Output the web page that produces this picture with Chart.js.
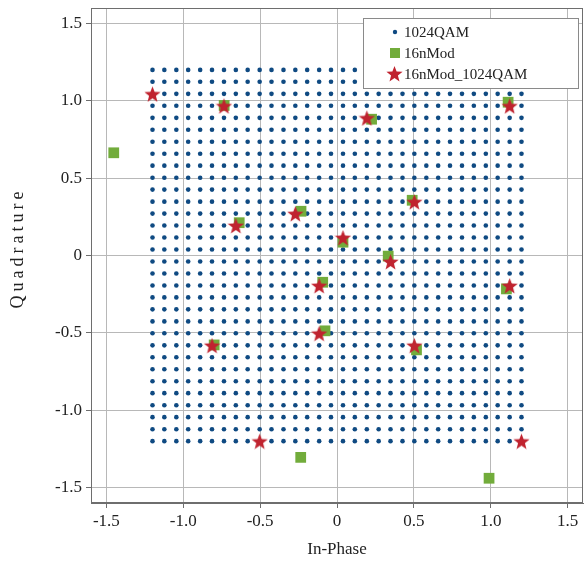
<!DOCTYPE html>
<html>
<head>
<meta charset="utf-8">
<script src="https://cdn.jsdelivr.net/npm/chart.js@4.4.0/dist/chart.umd.min.js"></script>
<style>
  html, body { margin: 0; padding: 0; background: #fff; }
  #wrap { width: 585px; height: 565px; }
</style>
</head>
<body>
<div id="wrap"><canvas id="myChart" width="585" height="565"></canvas></div>
<script>
// 1024QAM levels (same on both axes)
const qamLevels = [-1.200, -1.123, -1.045, -0.968, -0.890, -0.813, -0.735, -0.658,
                   -0.581, -0.503, -0.426, -0.348, -0.271, -0.194, -0.116, -0.039,
                    0.039,  0.116,  0.194,  0.271,  0.348,  0.426,  0.503,  0.581,
                    0.658,  0.735,  0.813,  0.890,  0.968,  1.045,  1.123,  1.200];

// 16nMod points
const modX = [-1.452, -0.734, -0.636, -0.234, 0.225, 1.113, 0.489, 0.039, 0.333, -0.093, -0.078, -0.799, 0.517, 1.102, -0.236, 0.989];
const modY = [0.664, 0.970, 0.212, 0.286, 0.881, 0.991, 0.357, 0.086, -0.004, -0.173, -0.487, -0.578, -0.610, -0.216, -1.305, -1.440];

// 16nMod_1024QAM points
const snapX = [-1.200, -0.735, -0.658, -0.271, 0.194, 1.123, 0.503, 0.039, 0.348, -0.116, -0.116, -0.813, 0.503, 1.123, -0.503, 1.200];
const snapY = [1.045, 0.968, 0.194, 0.271, 0.890, 0.968, 0.348, 0.116, -0.039, -0.194, -0.503, -0.581, -0.581, -0.194, -1.200, -1.200];

const tickVals = [-1.5, -1.0, -0.5, 0, 0.5, 1.0, 1.5];

const azul = "#0f4a82"
const verde = "#72ac3b"
const rojo = "#c0232f"

const qamPts = []
for (const yv of qamLevels) {
    for (const xv of qamLevels) {
        qamPts.push({ x: xv, y: yv })
    }
}
const modPts = modX.map((v, i) => ({ x: v, y: modY[i] }))
const snapPts = snapX.map((v, i) => ({ x: v, y: snapY[i] }))

function hacerEstrella(size, color) {
    const c = document.createElement("canvas")
    c.width = size
    c.height = size
    const g = c.getContext("2d")
    const r1 = size / 2, r2 = r1 * 0.42
    g.beginPath()
    for (let i = 0; i < 10; i++) {
        const r = i % 2 === 0 ? r1 : r2
        const a = -Math.PI / 2 + i * Math.PI / 5
        const px = size / 2 + r * Math.cos(a)
        const py = size / 2 + 1 + r * Math.sin(a)
        if (i === 0) g.moveTo(px, py); else g.lineTo(px, py)
    }
    g.closePath()
    g.fillStyle = color
    g.fill()
    return c
}
const estrella = hacerEstrella(17, rojo)

const fuente = "'Liberation Serif', 'Times New Roman', serif"

// stretch the plot area to the right edge (label padding leaves a gap otherwise)
const ajusteDerecho = {
    id: "ajusteDerecho",
    afterLayout(chart) {
        const a = chart.chartArea
        const x = chart.scales.x
        const borde = chart.width - 2
        a.right = borde
        a.width = a.right - a.left
        x.right = borde
        x.width = x.right - x.left
        x.configure()
    }
}

const marcoYLeyenda = {
    id: "marcoYLeyenda",
    afterDraw(chart) {
        const ctx = chart.ctx
        const a = chart.chartArea
        ctx.save()
        // frame
        ctx.strokeStyle = "#6e6e6e"
        ctx.lineWidth = 1
        ctx.strokeRect(a.left + 0.5, a.top + 0.5, a.right - a.left - 1, a.bottom - a.top - 1)

        // legend box
        const bx = 363, by = 18, bw = 215, bh = 70
        ctx.fillStyle = "#fff"
        ctx.fillRect(bx, by, bw, bh)
        ctx.strokeStyle = "#8a8a8a"
        ctx.strokeRect(bx + 0.5, by + 0.5, bw, bh)

        ctx.font = "15px " + fuente
        ctx.fillStyle = "#222"
        ctx.textBaseline = "middle"
        ctx.textAlign = "left"
        // 1024QAM
        ctx.beginPath()
        ctx.arc(395, 32, 2.2, 0, Math.PI * 2)
        ctx.fillStyle = azul
        ctx.fill()
        ctx.fillStyle = "#222"
        ctx.fillText("1024QAM", 404, 33)
        // 16nMod
        ctx.fillStyle = verde
        ctx.fillRect(390, 48, 10, 10)
        ctx.fillStyle = "#222"
        ctx.fillText("16nMod", 404, 54)
        // 16nMod_1024QAM
        ctx.drawImage(estrella, 386, 65)
        ctx.fillText("16nMod_1024QAM", 404, 75)

        // y title
        ctx.translate(18, 250)
        ctx.rotate(-Math.PI / 2)
        ctx.font = "18px " + fuente
        ctx.letterSpacing = "4px"
        ctx.textAlign = "center"
        ctx.fillStyle = "#222"
        ctx.fillText("Quadrature", 2, 0)
        ctx.restore()
    }
}

function formato(v) {
    return v === 0 ? "0" : v.toFixed(1)
}

const grafica = document.getElementById("myChart").getContext("2d")

const myChart = new Chart(grafica, {
    type: "scatter",
    data: {
        datasets: [
            {
                label: "1024QAM",
                data: qamPts,
                pointStyle: "circle",
                pointRadius: 2.3,
                pointBorderWidth: 0,
                backgroundColor: azul,
                borderColor: azul,
                order: 3
            },
            {
                label: "16nMod",
                data: modPts,
                pointStyle: "rect",
                pointRadius: 7.6,
                pointBorderWidth: 0,
                backgroundColor: verde,
                borderColor: verde,
                order: 2
            },
            {
                label: "16nMod_1024QAM",
                data: snapPts,
                pointStyle: estrella,
                backgroundColor: rojo,
                borderColor: rojo,
                order: 1
            }
        ]
    },
    options: {
        responsive: false,
        animation: false,
        layout: { padding: { top: 8, right: 2, left: 0, bottom: 0 } },
        plugins: {
            legend: { display: false },
            tooltip: { enabled: false }
        },
        scales: {
            x: {
                type: "linear",
                min: -1.6,
                max: 1.6,
                afterBuildTicks: s => { s.ticks = tickVals.map(v => ({ value: v })) },
                afterFit: s => { s.height = 62; s.paddingLeft = 0; s.paddingRight = 0 },
                grid: { color: "#b8b8b8", tickColor: "#6e6e6e", tickLength: 5 },
                border: { color: "#6e6e6e" },
                ticks: {
                    callback: v => formato(v),
                    color: "#222",
                    padding: 3,
                    maxRotation: 0,
                    font: { family: fuente, size: 17 }
                },
                title: {
                    display: true,
                    text: "In-Phase",
                    color: "#222",
                    padding: { top: 0, bottom: 5 },
                    font: { family: fuente, size: 17 }
                }
            },
            y: {
                type: "linear",
                min: -1.6,
                max: 1.6,
                afterBuildTicks: s => { s.ticks = tickVals.map(v => ({ value: v })) },
                afterFit: s => { s.width = 91; s.paddingTop = 0; s.paddingBottom = 0 },
                grid: { color: "#b8b8b8", tickColor: "#6e6e6e", tickLength: 5 },
                border: { color: "#6e6e6e" },
                ticks: {
                    callback: v => formato(v),
                    color: "#222",
                    padding: 4,
                    font: { family: fuente, size: 17 }
                }
            }
        }
    },
    plugins: [ajusteDerecho, marcoYLeyenda]
})
</script>
</body>
</html>
